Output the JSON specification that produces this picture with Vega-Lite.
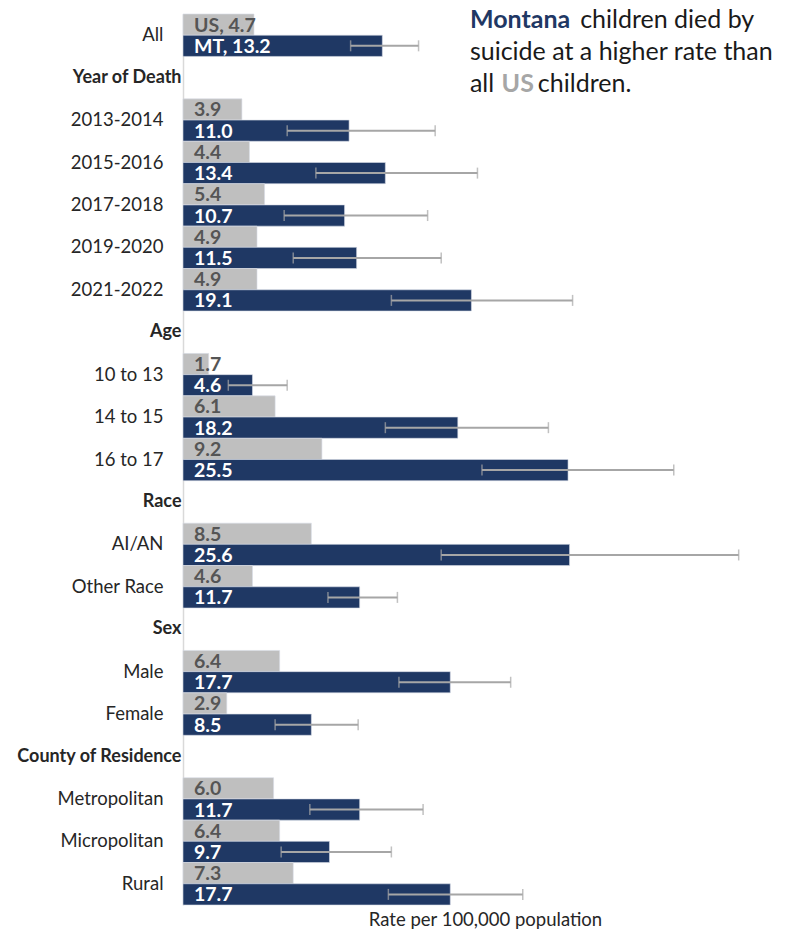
{
  "$schema": "https://vega.github.io/schema/vega-lite/v6.json",
  "width": 604,
  "height": 891,
  "autosize": {"type": "none"},
  "padding": {"left": 183, "top": 14, "right": 8, "bottom": 25},
  "background": "white",
  "config": {
    "view": {"stroke": null},
    "font": "Lato",
    "axisY": {
      "domainColor": "#d9d9d9",
      "domainWidth": 1.5,
      "ticks": false,
      "grid": false,
      "title": null,
      "labelFont": "Lato",
      "labelColor": "#262626",
      "labelLimit": 300
    }
  },
  "datasets": {
    "note": [{"line": 1}],
    "rates": [
      {"cat": "All", "series": "US", "rate": 4.7, "label": "US, 4.7"},
      {"cat": "All", "series": "MT", "rate": 13.2, "lo": 11.1, "hi": 15.6, "label": "MT, 13.2"},
      {"cat": "2013-2014", "series": "US", "rate": 3.9, "label": "3.9"},
      {"cat": "2013-2014", "series": "MT", "rate": 11.0, "lo": 6.9, "hi": 16.7, "label": "11.0"},
      {"cat": "2015-2016", "series": "US", "rate": 4.4, "label": "4.4"},
      {"cat": "2015-2016", "series": "MT", "rate": 13.4, "lo": 8.8, "hi": 19.5, "label": "13.4"},
      {"cat": "2017-2018", "series": "US", "rate": 5.4, "label": "5.4"},
      {"cat": "2017-2018", "series": "MT", "rate": 10.7, "lo": 6.7, "hi": 16.2, "label": "10.7"},
      {"cat": "2019-2020", "series": "US", "rate": 4.9, "label": "4.9"},
      {"cat": "2019-2020", "series": "MT", "rate": 11.5, "lo": 7.3, "hi": 17.1, "label": "11.5"},
      {"cat": "2021-2022", "series": "US", "rate": 4.9, "label": "4.9"},
      {"cat": "2021-2022", "series": "MT", "rate": 19.1, "lo": 13.8, "hi": 25.8, "label": "19.1"},
      {"cat": "10 to 13", "series": "US", "rate": 1.7, "label": "1.7"},
      {"cat": "10 to 13", "series": "MT", "rate": 4.6, "lo": 3.0, "hi": 6.9, "label": "4.6"},
      {"cat": "14 to 15", "series": "US", "rate": 6.1, "label": "6.1"},
      {"cat": "14 to 15", "series": "MT", "rate": 18.2, "lo": 13.4, "hi": 24.2, "label": "18.2"},
      {"cat": "16 to 17", "series": "US", "rate": 9.2, "label": "9.2"},
      {"cat": "16 to 17", "series": "MT", "rate": 25.5, "lo": 19.8, "hi": 32.5, "label": "25.5"},
      {"cat": "AI/AN", "series": "US", "rate": 8.5, "label": "8.5"},
      {"cat": "AI/AN", "series": "MT", "rate": 25.6, "lo": 17.1, "hi": 36.8, "label": "25.6"},
      {"cat": "Other Race", "series": "US", "rate": 4.6, "label": "4.6"},
      {"cat": "Other Race", "series": "MT", "rate": 11.7, "lo": 9.6, "hi": 14.2, "label": "11.7"},
      {"cat": "Male", "series": "US", "rate": 6.4, "label": "6.4"},
      {"cat": "Male", "series": "MT", "rate": 17.7, "lo": 14.3, "hi": 21.7, "label": "17.7"},
      {"cat": "Female", "series": "US", "rate": 2.9, "label": "2.9"},
      {"cat": "Female", "series": "MT", "rate": 8.5, "lo": 6.1, "hi": 11.6, "label": "8.5"},
      {"cat": "Metropolitan", "series": "US", "rate": 6.0, "label": "6.0"},
      {"cat": "Metropolitan", "series": "MT", "rate": 11.7, "lo": 8.4, "hi": 15.9, "label": "11.7"},
      {"cat": "Micropolitan", "series": "US", "rate": 6.4, "label": "6.4"},
      {"cat": "Micropolitan", "series": "MT", "rate": 9.7, "lo": 6.5, "hi": 13.8, "label": "9.7"},
      {"cat": "Rural", "series": "US", "rate": 7.3, "label": "7.3"},
      {"cat": "Rural", "series": "MT", "rate": 17.7, "lo": 13.6, "hi": 22.5, "label": "17.7"}
    ]
  },
  "data": {"name": "rates"},
  "encoding": {
    "y": {
      "field": "cat",
      "type": "nominal",
      "scale": {
        "domain": ["All", "Year of Death", "2013-2014", "2015-2016", "2017-2018", "2019-2020", "2021-2022", "Age", "10 to 13", "14 to 15", "16 to 17", "Race", "AI/AN", "Other Race", "Sex", "Male", "Female", "County of Residence", "Metropolitan", "Micropolitan", "Rural"],
        "paddingInner": 0,
        "paddingOuter": 0
      },
      "axis": {
        "labelFontWeight": {"condition": {"test": "indexof(['Year of Death','Age','Race','Sex','County of Residence'], datum.value) >= 0", "value": "bold"}, "value": "normal"},
        "labelFontSize": {"condition": {"test": "indexof(['Year of Death','Age','Race','Sex','County of Residence'], datum.value) >= 0", "value": 18}, "value": 18.5},
        "labelPadding": {"condition": {"test": "indexof(['Year of Death','Age','Race','Sex','County of Residence'], datum.value) >= 0", "value": 2}, "value": 20}
      }
    }
  },
  "layer": [
    {
      "mark": {"type": "bar", "stroke": "#d6dce5", "strokeWidth": 0.6},
      "encoding": {
        "x": {
          "field": "rate",
          "type": "quantitative",
          "scale": {"domain": [0, 40], "nice": false},
          "axis": {"labels": false, "ticks": false, "domain": false, "grid": false, "title": "Rate per 100,000 population", "titleFont": "Lato", "titleFontSize": 18.5, "titleFontWeight": "normal", "titleColor": "#262626", "titlePadding": 5}
        },
        "yOffset": {"field": "series", "type": "nominal", "scale": {"domain": ["US", "MT"], "paddingInner": 0, "paddingOuter": 0}},
        "color": {"field": "series", "type": "nominal", "scale": {"domain": ["US", "MT"], "range": ["#bfbfbf", "#1f3864"]}, "legend": null}
      }
    },
    {
      "transform": [{"filter": "datum.series == 'MT'"}],
      "mark": {"type": "rule", "color": "#a6a6a6", "strokeWidth": 2},
      "encoding": {
        "x": {"field": "lo", "type": "quantitative"},
        "x2": {"field": "hi"},
        "yOffset": {"field": "series", "type": "nominal"}
      }
    },
    {
      "transform": [{"filter": "datum.series == 'MT'"}],
      "mark": {"type": "tick", "color": "#a6a6a6", "thickness": 1.5, "size": 11},
      "encoding": {
        "x": {"field": "lo", "type": "quantitative"},
        "yOffset": {"field": "series", "type": "nominal"}
      }
    },
    {
      "transform": [{"filter": "datum.series == 'MT'"}],
      "mark": {"type": "tick", "color": "#a6a6a6", "thickness": 1.5, "size": 11},
      "encoding": {
        "x": {"field": "hi", "type": "quantitative"},
        "yOffset": {"field": "series", "type": "nominal"}
      }
    },
    {
      "mark": {"type": "text", "align": "left", "baseline": "middle", "dx": 11, "dy": 1, "fontSize": 19.5, "fontWeight": "bold", "font": "Lato"},
      "encoding": {
        "x": {"datum": 0},
        "yOffset": {"field": "series", "type": "nominal"},
        "text": {"field": "label"},
        "color": {"condition": {"test": "datum.series == 'US'", "value": "#555555"}, "value": "#ffffff"}
      }
    },
    {
      "data": {"name": "note"},
      "mark": {"type": "text", "text": "Montana", "align": "left", "baseline": "alphabetic", "dy": -7, "fontSize": 25, "fontWeight": "bold", "font": "Lato", "color": "#1f3864"},
      "encoding": {"x": {"datum": 19.0}, "y": {"datum": "All"}}
    },
    {
      "data": {"name": "note"},
      "mark": {"type": "text", "text": "children died by", "align": "left", "baseline": "alphabetic", "dy": -7, "fontSize": 25, "font": "Lato", "color": "#1a1a1a"},
      "encoding": {"x": {"datum": 26.3}, "y": {"datum": "All"}}
    },
    {
      "data": {"name": "note"},
      "mark": {"type": "text", "text": "suicide at a higher rate than", "align": "left", "baseline": "alphabetic", "dy": 25, "fontSize": 25, "font": "Lato", "color": "#1a1a1a"},
      "encoding": {"x": {"datum": 19.0}, "y": {"datum": "All"}}
    },
    {
      "data": {"name": "note"},
      "mark": {"type": "text", "text": "all", "align": "left", "baseline": "alphabetic", "dy": 57, "fontSize": 25, "font": "Lato", "color": "#1a1a1a"},
      "encoding": {"x": {"datum": 19.0}, "y": {"datum": "All"}}
    },
    {
      "data": {"name": "note"},
      "mark": {"type": "text", "text": "US", "align": "left", "baseline": "alphabetic", "dy": 57, "fontSize": 25, "fontWeight": "bold", "font": "Lato", "color": "#a6a6a6"},
      "encoding": {"x": {"datum": 21.1}, "y": {"datum": "All"}}
    },
    {
      "data": {"name": "note"},
      "mark": {"type": "text", "text": "children.", "align": "left", "baseline": "alphabetic", "dy": 57, "fontSize": 25, "font": "Lato", "color": "#1a1a1a"},
      "encoding": {"x": {"datum": 23.5}, "y": {"datum": "All"}}
    }
  ]
}
